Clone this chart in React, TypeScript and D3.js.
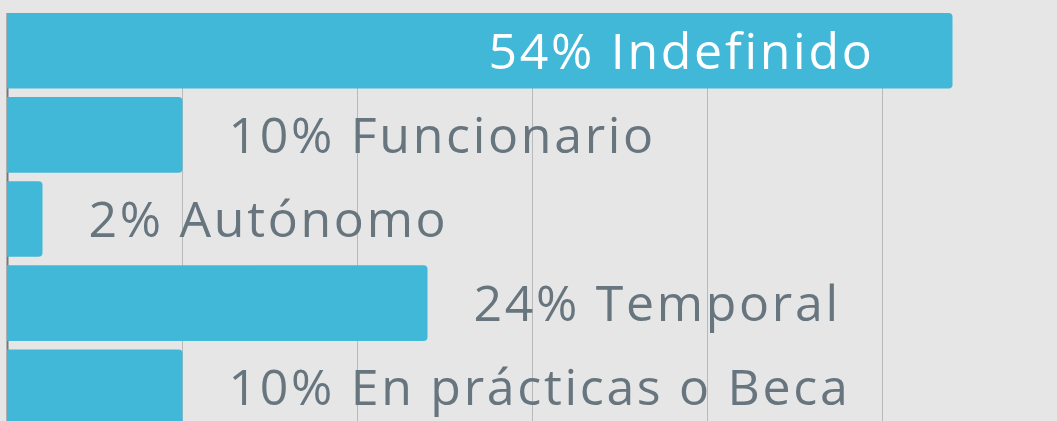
import React from "react";
import * as d3 from "d3";

const categories = ["Indefinido", "Funcionario", "Autónomo", "Temporal", "En prácticas o Beca"];
const values = [54, 10, 2, 24, 10];
const gridTicks = [10, 20, 30, 40, 50, 60];

const W = 1057;
const H = 421;
const BG = "#e6e6e6";
const BAR = "#42b8d8";
const TEXT = "#67757f";

function barPath(x0: number, x1: number, y0: number, h: number, r: number) {
  const rr = Math.min(r, (x1 - x0) / 2, h / 2);
  return `M${x0},${y0}H${x1 - rr}Q${x1},${y0} ${x1},${y0 + rr}V${y0 + h - rr}Q${x1},${y0 + h} ${x1 - rr},${y0 + h}H${x0}Z`;
}

export default function App() {
  const x = d3.scaleLinear().domain([0, 60]).range([7.5, 7.5 + 60 * 17.5]);
  const y = d3.scaleBand<string>().domain(categories).range([13, 425]).paddingInner(0.102).paddingOuter(0);
  const bw = y.bandwidth();

  return (
    <svg
      width={W}
      height={H}
      style={{ position: "fixed", left: 0, top: 0, display: "block" }}
      fontFamily="'Open Sans', Lato, sans-serif"
    >
      <rect x={0} y={0} width={W} height={H} fill={BG} />
      {gridTicks.map((t) => (
        <line key={t} x1={x(t)} x2={x(t)} y1={13} y2={H} stroke="#b9b9b9" strokeWidth={1} />
      ))}
      <line x1={x(0)} x2={x(0)} y1={13} y2={H} stroke="#777" strokeWidth={2} />
      {categories.map((c, i) => {
        const v = values[i];
        const y0 = y(c)!;
        const inside = i === 0;
        const label = `${v}% ${c}`;
        return (
          <g key={c}>
            <path d={barPath(x(0) - 0.5, x(v), y0, bw, 4)} fill={BAR} />
            <text
              x={inside ? x(v) - 78 : x(v) + 46}
              y={y0 + bw / 2}
              dy="0.36em"
              textAnchor={inside ? "end" : "start"}
              fontSize={50}
              letterSpacing={2.7}
              fill={inside ? "#ffffff" : TEXT}
            >
              {label}
            </text>
          </g>
        );
      })}
    </svg>
  );
}
